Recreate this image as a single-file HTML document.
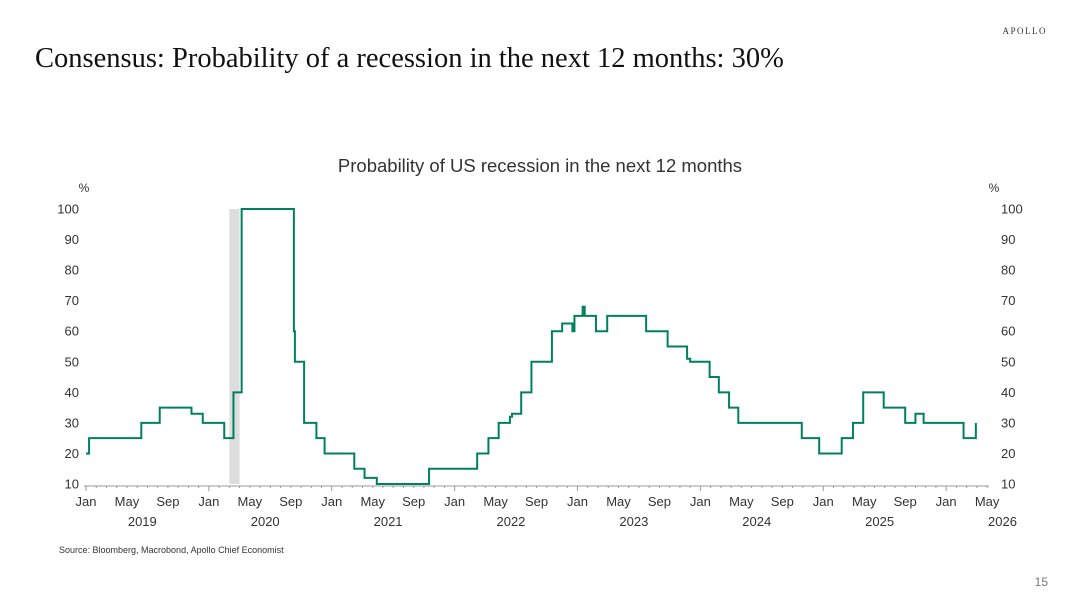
<!DOCTYPE html>
<html><head><meta charset="utf-8"><style>
body{margin:0;background:#fff;width:1080px;height:608px;overflow:hidden;font-family:"Liberation Sans",sans-serif}
</style></head><body>
<svg width="1080" height="608" viewBox="0 0 1080 608">
<text x="1047" y="34" text-anchor="end" font-family="Liberation Serif" font-size="9" letter-spacing="1.5" fill="#333">APOLLO</text>
<text x="35" y="67" font-family="Liberation Serif" font-size="28.5" fill="#111">Consensus: Probability of a recession in the next 12 months: 30%</text>
<text x="540" y="172" text-anchor="middle" font-size="18.5" fill="#333">Probability of US recession in the next 12  months</text>
<text x="84" y="192" text-anchor="middle" font-size="12" fill="#333">%</text>
<text x="994" y="192" text-anchor="middle" font-size="12" fill="#333">%</text>
<g id="chart"></g>
<text x="59" y="553" font-size="9" fill="#333">Source: Bloomberg, Macrobond, Apollo Chief Economist</text>
<text x="1048" y="586" text-anchor="end" font-size="12" fill="#777">15</text>
</svg>
<script>
// months since Jan 2019 (fractional) where a step begins, and value from that point
const stepMonths=[0,0.3,5.4,7.2,10.3,11.4,13.5,14.4,15.2,20.3,20.4,21.3,22.5,23.3,26.2,27.2,28.4,33.5,38.2,39.3,40.3,41.4,41.6,42.5,43.5,45.5,46.5,47.5,47.7,48.5,48.7,49.8,50.9,54.7,56.8,58.7,59,60.9,61.8,62.8,63.7,69.9,71.6,73.8,74.9,75.9,77.9,80,81,81.8,85.7,86.9];
const stepValues=[20,25,30,35,33,30,25,40,100,60,50,30,25,20,15,12,10,15,20,25,30,32,33,40,50,60,62.5,60,65,68,65,60,65,60,55,51,50,45,40,35,30,25,20,25,30,40,35,30,33,30,25,30];
const yTicks=[10,20,30,40,50,60,70,80,90,100];
const monthLabels=["Jan","May","Sep"];
const yearLabels=["2019","2020","2021","2022","2023","2024","2025","2026"];
const recession=[14,15];
const NS="http://www.w3.org/2000/svg";
const g=document.getElementById('chart');
const X0=86,XW=10.24,Y0=484,YS=3.056;
const xs=m=>X0+m*XW, ys=v=>Y0-(v-10)*YS;
function mk(t,a){const e=document.createElementNS(NS,t);for(const k in a)e.setAttribute(k,a[k]);g.appendChild(e);return e;}
const rec=mk('rect',{x:xs(recession[0]),y:ys(100),width:xs(recession[1])-xs(recession[0]),height:ys(10)-ys(100),fill:'#dcdddc'});


yTicks.forEach(v=>{
 const a=mk('text',{x:79,y:ys(v)+4.5,'text-anchor':'end','font-size':13,fill:'#333'});a.textContent=v;
 
 
 const b=mk('text',{x:1001,y:ys(v)+4.5,'text-anchor':'start','font-size':13,fill:'#333'});b.textContent=v;
 
 
});
const ax=mk('line',{x1:xs(0)-2,x2:xs(88)+2,y1:486,y2:486,stroke:'#999','stroke-width':1});


for(let m=0;m<=88;m++){
 const t=mk('line',{x1:xs(m),x2:xs(m),y1:486,y2:m%12==0?491:488,stroke:'#999','stroke-width':1});
 
 
 if(m%4==0){const l=mk('text',{x:xs(m),y:506,'text-anchor':'middle','font-size':13,fill:'#333'});l.textContent=monthLabels[(m/4)%3];
 
 }
}
yearLabels.forEach((y,i)=>{const l=mk('text',{x:xs(i*12+5.5),y:526,'text-anchor':'middle','font-size':13,fill:'#333'});l.textContent=y;
 
 });
let d='';
for(let i=0;i<stepMonths.length;i++){
 const x=xs(stepMonths[i]),y=ys(stepValues[i]);
 if(i==0)d+='M'+x+','+y;else d+='H'+x+'V'+y;
}
const p=mk('path',{d:d,fill:'none',stroke:'#00805f','stroke-width':2});


</script>
</body></html>
